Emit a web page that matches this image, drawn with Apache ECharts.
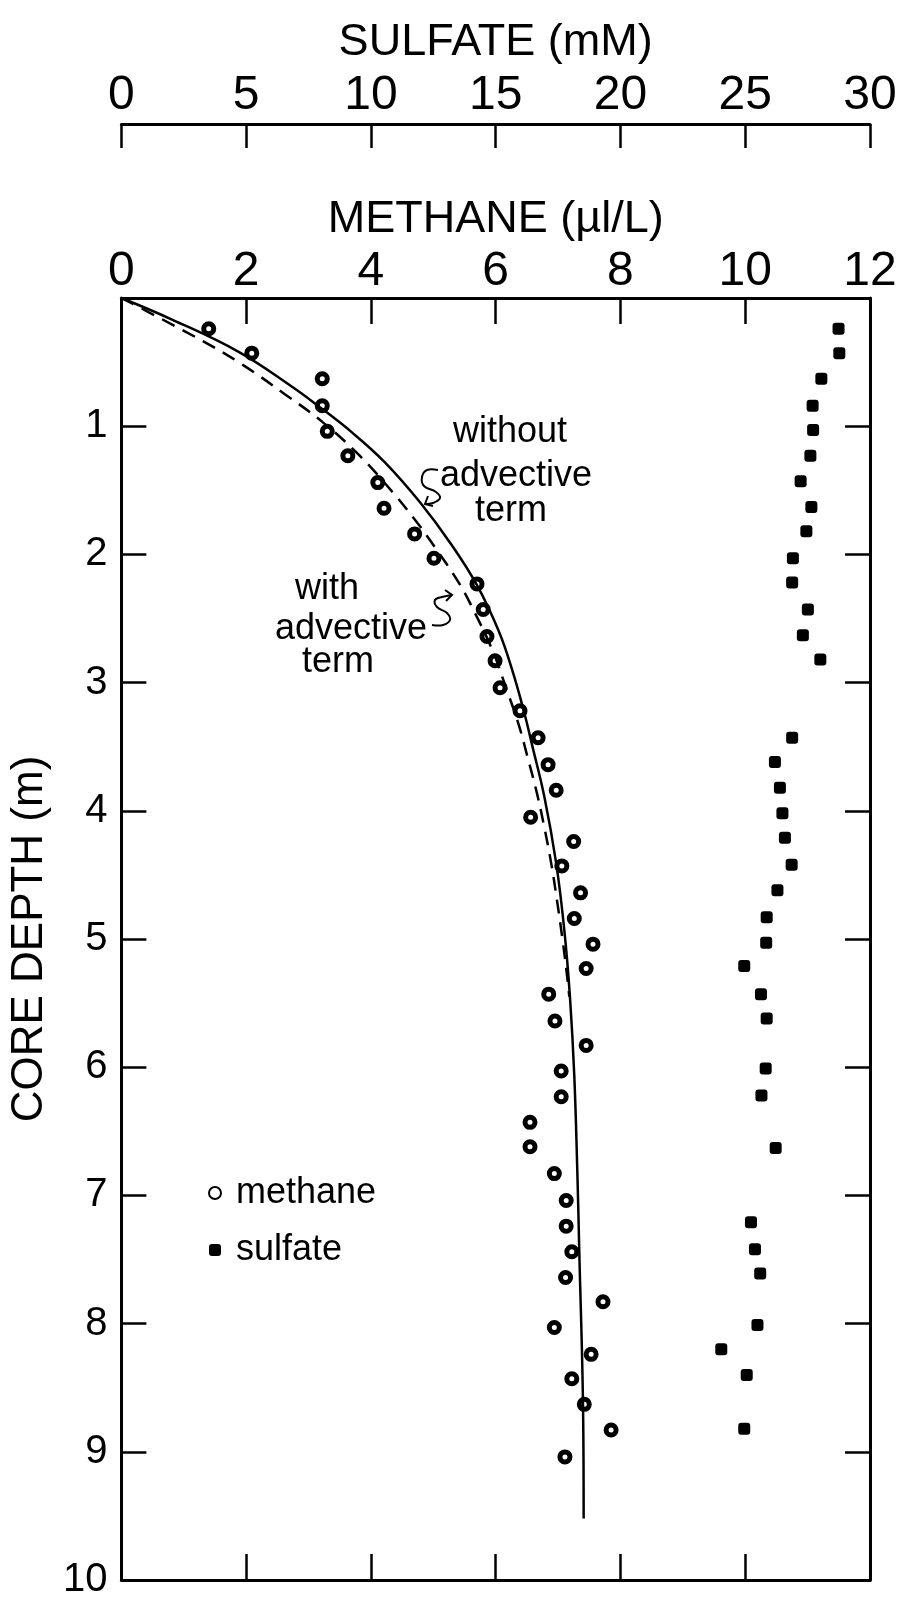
<!DOCTYPE html>
<html lang="en">
<head>
    <meta charset="utf-8" />
    <title>Methane and sulfate profiles</title>
    <script type="text/javascript" src="https://cdn.jsdelivr.net/npm/echarts@6/dist/echarts.min.js"></script>
    <style type="text/css">
        html, body { margin: 0; padding: 0; background: #fff; }
    </style>
</head>
<body>
    <div id="main" style="width:904px;height:1600px;"></div>

    <script type="text/javascript">
        // methane (ul/L) and core depth (m) of each sample
        var methaneConc = [1.40, 2.09, 3.22, 3.22, 3.30, 3.63, 4.11, 4.21, 4.70, 5.01, 5.70, 5.80, 5.86, 5.99, 6.07,
            6.39, 6.68, 6.84, 6.97, 6.56, 7.25, 7.06, 7.36, 7.26, 7.56, 7.45, 6.85, 6.95, 7.45, 7.05,
            7.05, 6.55, 6.55, 6.94, 7.13, 7.13, 7.22, 7.12, 7.72, 6.94, 7.53, 7.22, 7.42, 7.85, 7.11];
        var methaneDepth = [0.24, 0.43, 0.63, 0.84, 1.04, 1.23, 1.44, 1.64, 1.84, 2.03, 2.23, 2.43, 2.64, 2.83, 3.04,
            3.22, 3.43, 3.64, 3.84, 4.05, 4.24, 4.43, 4.64, 4.84, 5.04, 5.23, 5.43, 5.64, 5.83, 6.03,
            6.23, 6.43, 6.62, 6.83, 7.04, 7.24, 7.44, 7.64, 7.83, 8.03, 8.24, 8.43, 8.63, 8.83, 9.04];

        // sulfate (mM) and core depth (m)
        var sulfateConc = [28.74, 28.77, 28.05, 27.70, 27.72, 27.61, 27.22, 27.65, 27.45, 26.91, 26.88, 27.51,
            27.31, 28.01, 26.88, 26.19, 26.39, 26.49, 26.59, 26.86, 26.29, 25.86, 25.84, 24.96,
            25.63, 25.86, 25.82, 25.65, 26.22, 25.23, 25.39, 25.60, 25.49, 24.04, 25.06, 24.96];
        var sulfateDepth = [0.24, 0.43, 0.63, 0.84, 1.03, 1.23, 1.43, 1.63, 1.82, 2.03, 2.22, 2.43,
            2.63, 2.82, 3.43, 3.62, 3.82, 4.02, 4.21, 4.42, 4.62, 4.83, 5.03, 5.21,
            5.43, 5.62, 6.01, 6.22, 6.63, 7.21, 7.42, 7.61, 8.01, 8.20, 8.40, 8.82];

        // model curve without advective term (solid)
        var noAdvConc = [0, 0.82, 1.88, 2.73, 3.15, 3.70, 4.22, 4.78, 5.30, 5.70, 6.05, 6.27, 6.45, 6.58,
            6.78, 6.97, 7.10, 7.19, 7.26, 7.31, 7.34, 7.40, 7.41];
        var noAdvDepth = [0, 0.17, 0.42, 0.69, 0.84, 1.05, 1.28, 1.59, 1.93, 2.24, 2.60, 2.91, 3.22, 3.48,
            3.89, 4.41, 4.93, 5.45, 6.07, 6.84, 7.44, 8.65, 9.52];

        // model curve with advective term (dashed)
        var advConc = [0, 1.32, 1.94, 2.62, 3.23, 3.82, 4.34, 4.69, 5.02, 5.42, 5.66, 5.95, 6.18, 6.37,
            6.51, 6.66, 6.78, 6.89, 6.98, 7.07, 7.14, 7.18];
        var advDepth = [0, 0.34, 0.52, 0.75, 0.97, 1.23, 1.51, 1.72, 1.94, 2.23, 2.45, 2.75, 3.06, 3.33,
            3.58, 3.86, 4.13, 4.41, 4.69, 5.00, 5.27, 5.45];

        var methaneTicks = [0, 12, 2];
        var sulfateTicks = [0, 30, 5];
        var depthTicks = [0, 10, 1];

        function pairs(xs, ys) {
            var out = [];
            for (var i = 0; i < xs.length; i++) out.push([xs[i], ys[i]]);
            return out;
        }

        var FONT = "'Liberation Sans', Arial, sans-serif";
        var black = '#000';
        var lineSt = { color: black, width: 3 };
        var tickSt = { color: black, width: 2.5 };

        var myChart = echarts.init(document.getElementById('main'));

        var option = {
            backgroundColor: '#fff',
            animation: false,
            textStyle: { fontFamily: FONT, color: black },
            grid: { left: 115, top: 298, right: 34, bottom: 13 },
            legend: {
                orient: 'vertical',
                left: 203,
                top: 1168,
                itemWidth: 12,
                itemHeight: 12,
                itemGap: 17,
                data: ['methane', 'sulfate'],
                textStyle: { fontFamily: FONT, fontSize: 36, color: black, lineHeight: 40, padding: [0, 0, 0, 10] }
            },
            xAxis: [{
                // methane, top of the plot
                type: 'value',
                position: 'top',
                min: methaneTicks[0], max: methaneTicks[1], interval: methaneTicks[2],
                name: 'METHANE (µl/L)',
                nameLocation: 'middle',
                nameGap: 56,
                nameTextStyle: { fontFamily: FONT, fontSize: 45, color: black },
                axisLine: { onZero: false, lineStyle: lineSt },
                axisTick: { inside: true, length: 26, lineStyle: tickSt },
                axisLabel: { fontFamily: FONT, fontSize: 48, color: black, margin: 2 },
                splitLine: { show: false }
            }, {
                // bottom frame
                type: 'value',
                position: 'bottom',
                min: methaneTicks[0], max: methaneTicks[1], interval: methaneTicks[2],
                axisLine: { onZero: false, lineStyle: lineSt },
                axisTick: { inside: true, length: 26, lineStyle: tickSt },
                axisLabel: { show: false },
                splitLine: { show: false }
            }, {
                // sulfate, separate scale above
                type: 'value',
                position: 'top',
                offset: 174,
                min: sulfateTicks[0], max: sulfateTicks[1], interval: sulfateTicks[2],
                name: 'SULFATE (mM)',
                nameLocation: 'middle',
                nameGap: 59,
                nameTextStyle: { fontFamily: FONT, fontSize: 45, color: black },
                axisLine: { onZero: false, lineStyle: lineSt },
                axisTick: { inside: true, length: 24, lineStyle: tickSt },
                axisLabel: { fontFamily: FONT, fontSize: 48, color: black, margin: 4 },
                splitLine: { show: false }
            }],
            yAxis: [{
                type: 'value',
                inverse: true,
                position: 'left',
                min: depthTicks[0], max: depthTicks[1], interval: depthTicks[2],
                name: 'CORE DEPTH (m)',
                nameLocation: 'middle',
                nameRotate: 90,
                nameGap: 56,
                nameTextStyle: { fontFamily: FONT, fontSize: 44, color: black },
                axisLine: { onZero: false, lineStyle: lineSt },
                axisTick: { inside: true, length: 25, lineStyle: tickSt },
                axisLabel: {
                    fontFamily: FONT, fontSize: 40, color: black, margin: 14,
                    formatter: function (v) { return v === 0 ? '' : v; }
                },
                splitLine: { show: false }
            }, {
                type: 'value',
                inverse: true,
                position: 'right',
                min: depthTicks[0], max: depthTicks[1], interval: depthTicks[2],
                axisLine: { onZero: false, lineStyle: lineSt },
                axisTick: { inside: true, length: 25, lineStyle: tickSt },
                axisLabel: { show: false },
                splitLine: { show: false }
            }],
            series: [{
                name: 'without advective term',
                type: 'line',
                xAxisIndex: 0, yAxisIndex: 0,
                smooth: 0.4,
                showSymbol: false,
                lineStyle: { color: black, width: 2.5 },
                data: pairs(noAdvConc, noAdvDepth)
            }, {
                name: 'with advective term',
                type: 'line',
                xAxisIndex: 0, yAxisIndex: 0,
                smooth: 0.4,
                showSymbol: false,
                lineStyle: { color: black, width: 2.5, type: [14, 9] },
                data: pairs(advConc, advDepth)
            }, {
                name: 'methane',
                type: 'scatter',
                xAxisIndex: 0, yAxisIndex: 0,
                symbol: 'circle',
                symbolSize: 10,
                itemStyle: { color: '#fff', borderColor: black, borderWidth: 5, opacity: 1 },
                data: pairs(methaneConc, methaneDepth)
            }, {
                name: 'sulfate',
                type: 'scatter',
                xAxisIndex: 2, yAxisIndex: 0,
                symbol: 'roundRect',
                symbolSize: 12,
                itemStyle: { color: black, opacity: 1 },
                data: pairs(sulfateConc, sulfateDepth)
            }],
            graphic: [
                { type: 'text', x: 510, y: 432, style: { text: 'without', font: '36px ' + FONT, fill: black, textAlign: 'center', textVerticalAlign: 'middle' } },
                { type: 'text', x: 516, y: 476, style: { text: 'advective', font: '36px ' + FONT, fill: black, textAlign: 'center', textVerticalAlign: 'middle' } },
                { type: 'text', x: 511, y: 511, style: { text: 'term', font: '36px ' + FONT, fill: black, textAlign: 'center', textVerticalAlign: 'middle' } },
                { type: 'text', x: 327, y: 589, style: { text: 'with', font: '36px ' + FONT, fill: black, textAlign: 'center', textVerticalAlign: 'middle' } },
                { type: 'text', x: 351, y: 629, style: { text: 'advective', font: '36px ' + FONT, fill: black, textAlign: 'center', textVerticalAlign: 'middle' } },
                { type: 'text', x: 338, y: 662, style: { text: 'term', font: '36px ' + FONT, fill: black, textAlign: 'center', textVerticalAlign: 'middle' } },
                // squiggly pointers
                {
                    type: 'polyline',
                    shape: { points: [[438, 470], [427, 470], [422, 477], [424, 486], [436, 492], [440, 498], [433, 503], [425, 504]], smooth: 0.4 },
                    style: { stroke: black, lineWidth: 2, fill: null }
                },
                {
                    type: 'polyline',
                    shape: { points: [[428, 496], [425, 504], [433, 506]] },
                    style: { stroke: black, lineWidth: 2, fill: null }
                },
                {
                    type: 'polyline',
                    shape: { points: [[432, 625], [443, 625], [450, 620], [447, 613], [437, 607], [435, 600], [442, 597], [452, 595]], smooth: 0.4 },
                    style: { stroke: black, lineWidth: 2, fill: null }
                },
                {
                    type: 'polyline',
                    shape: { points: [[445, 590], [452, 595], [446, 601]] },
                    style: { stroke: black, lineWidth: 2, fill: null }
                }
            ]
        };
        myChart.setOption(option, true);
    </script>
</body>
</html>
